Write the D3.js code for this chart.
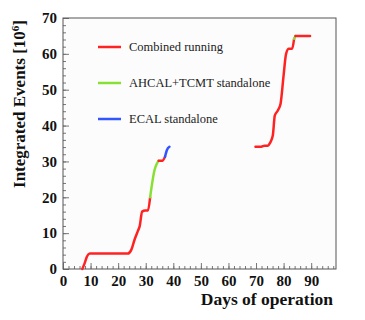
<!DOCTYPE html>
<html>
<head>
<meta charset="utf-8">
<script src="https://cdn.jsdelivr.net/npm/d3@7"></script>
<style>
  body { margin: 0; background: #fff; }
  svg text { font-family: "Liberation Serif", "Times New Roman", Times, serif; }
</style>
</head>
<body>
<svg id="chart" width="365" height="320"></svg>
<script>
// segments of the integrated events curve: [day, events (10^6)]
const combined1 = [[7.0, 0], [7.8, 1.5], [8.7, 3.5], [9.7, 4.3], [15, 4.3], [23.5, 4.3], [24.8, 5.4], [26, 8.3],
    [27.2, 10.7], [27.8, 11.9], [28.7, 16], [29.8, 16.3], [30.8, 16.3], [31.6, 20]];
const ahcal1 = [[31.6, 20], [33.2, 27.6], [34.1, 29.5], [34.7, 30.2]];
const combined2 = [[34.7, 30.2], [36, 30.2], [37, 31.3]];
const ecal1 = [[37, 31.3], [37.7, 33.2], [38.6, 34.1]];
const combined3 = [[69.8, 34.1], [71.9, 34.1], [73.1, 34.4], [74.3, 34.4], [75.1, 35.2], [76.1, 37.3], [76.8, 42.8],
    [77.9, 44.2], [78.9, 46.1], [80, 54], [80.9, 60], [81.9, 61.4], [83.1, 61.4], [83.8, 64.2]];
const ahcal2 = [[83.8, 64.2], [84.3, 65]];
const combined4 = [[84.3, 65], [89.6, 65]];

const legendLabels = ["Combined running", "AHCAL+TCMT standalone", "ECAL standalone"];
const legendColors = ["#ff2222", "#88e033", "#3355ff"];
const xTicks = [0, 10, 20, 30, 40, 50, 60, 70, 80, 90];
const yTicks = [0, 10, 20, 30, 40, 50, 60, 70];

const svg = d3.select("#chart");
const margin = {top: 18, right: 29, bottom: 51, left: 63};
const width = +svg.attr("width") - margin.left - margin.right;
const height = +svg.attr("height") - margin.top - margin.bottom;
const g = svg.append("g").attr("transform", "translate(" + margin.left + "," + margin.top + ")");

const x = d3.scaleLinear().domain([0, 99]).range([0, width]);
const y = d3.scaleLinear().domain([0, 70]).range([height, 0]);

g.append("rect")
    .attr("width", width)
    .attr("height", height)
    .attr("fill", "#fcfcfd");

// minor ticks
g.append("g")
    .call(d3.axisBottom(x).tickValues(d3.range(0, 99, 2)).tickSize(-3).tickFormat(""))
    .attr("transform", "translate(0," + height + ")")
    .call(a => a.select(".domain").remove())
    .selectAll("line").attr("stroke", "#777");
g.append("g")
    .call(d3.axisLeft(y).tickValues(d3.range(0, 71, 2)).tickSize(-3).tickFormat(""))
    .call(a => a.select(".domain").remove())
    .selectAll("line").attr("stroke", "#777");

// major ticks + labels
const xAxis = g.append("g")
    .attr("transform", "translate(0," + height + ")")
    .call(d3.axisBottom(x).tickValues(xTicks).tickSize(-6).tickPadding(6));
xAxis.select(".domain").remove();
xAxis.selectAll("line").attr("stroke", "#777");
xAxis.selectAll("text")
    .attr("font-weight", "bold")
    .attr("font-size", 15)
    .attr("fill", "#111");

const yAxis = g.append("g")
    .call(d3.axisLeft(y).tickValues(yTicks).tickSize(-6).tickPadding(6));
yAxis.select(".domain").remove();
yAxis.selectAll("line").attr("stroke", "#777");
yAxis.selectAll("text")
    .attr("font-weight", "bold")
    .attr("font-size", 15)
    .attr("fill", "#111");

// frame
g.append("rect")
    .attr("width", width)
    .attr("height", height)
    .attr("fill", "none")
    .attr("stroke", "#555")
    .attr("stroke-width", 1);

// curve
const line = d3.line()
    .x(d => x(d[0]))
    .y(d => y(d[1]))
    .curve(d3.curveMonotoneX);

const segments = [
    [combined1, 0], [ahcal1, 1], [combined2, 0], [ecal1, 2],
    [combined3, 0], [ahcal2, 1], [combined4, 0]
];
g.selectAll(".seg").data(segments).enter().append("path")
    .attr("class", "seg")
    .attr("d", d => line(d[0]))
    .attr("fill", "none")
    .attr("stroke", d => legendColors[d[1]])
    .attr("stroke-width", 2.5)
    .attr("stroke-linecap", "round");

// legend
const legend = g.selectAll(".legend").data(legendLabels).enter().append("g")
    .attr("class", "legend")
    .attr("transform", (d, i) => "translate(35," + (29 + i * 36) + ")");
legend.append("line")
    .attr("x1", 0).attr("x2", 23)
    .attr("stroke", (d, i) => legendColors[i])
    .attr("stroke-width", 2.5);
legend.append("text")
    .attr("x", 31)
    .attr("dy", "0.35em")
    .attr("font-size", 12.5)
    .attr("fill", "#222")
    .text(d => d);

// axis titles
svg.append("text")
    .attr("x", 333)
    .attr("y", 305)
    .attr("text-anchor", "end")
    .attr("font-weight", "bold")
    .attr("font-size", 17.5)
    .attr("fill", "#111")
    .text("Days of operation");

const yTitle = svg.append("text")
    .attr("transform", "translate(25,104) rotate(-90)")
    .attr("text-anchor", "middle")
    .attr("font-weight", "bold")
    .attr("font-size", 17)
    .attr("fill", "#111");
yTitle.append("tspan").text("Integrated Events [10");
yTitle.append("tspan").attr("dy", -6).attr("font-size", 11).text("6");
yTitle.append("tspan").attr("dy", 6).text("]");
</script>
</body>
</html>
